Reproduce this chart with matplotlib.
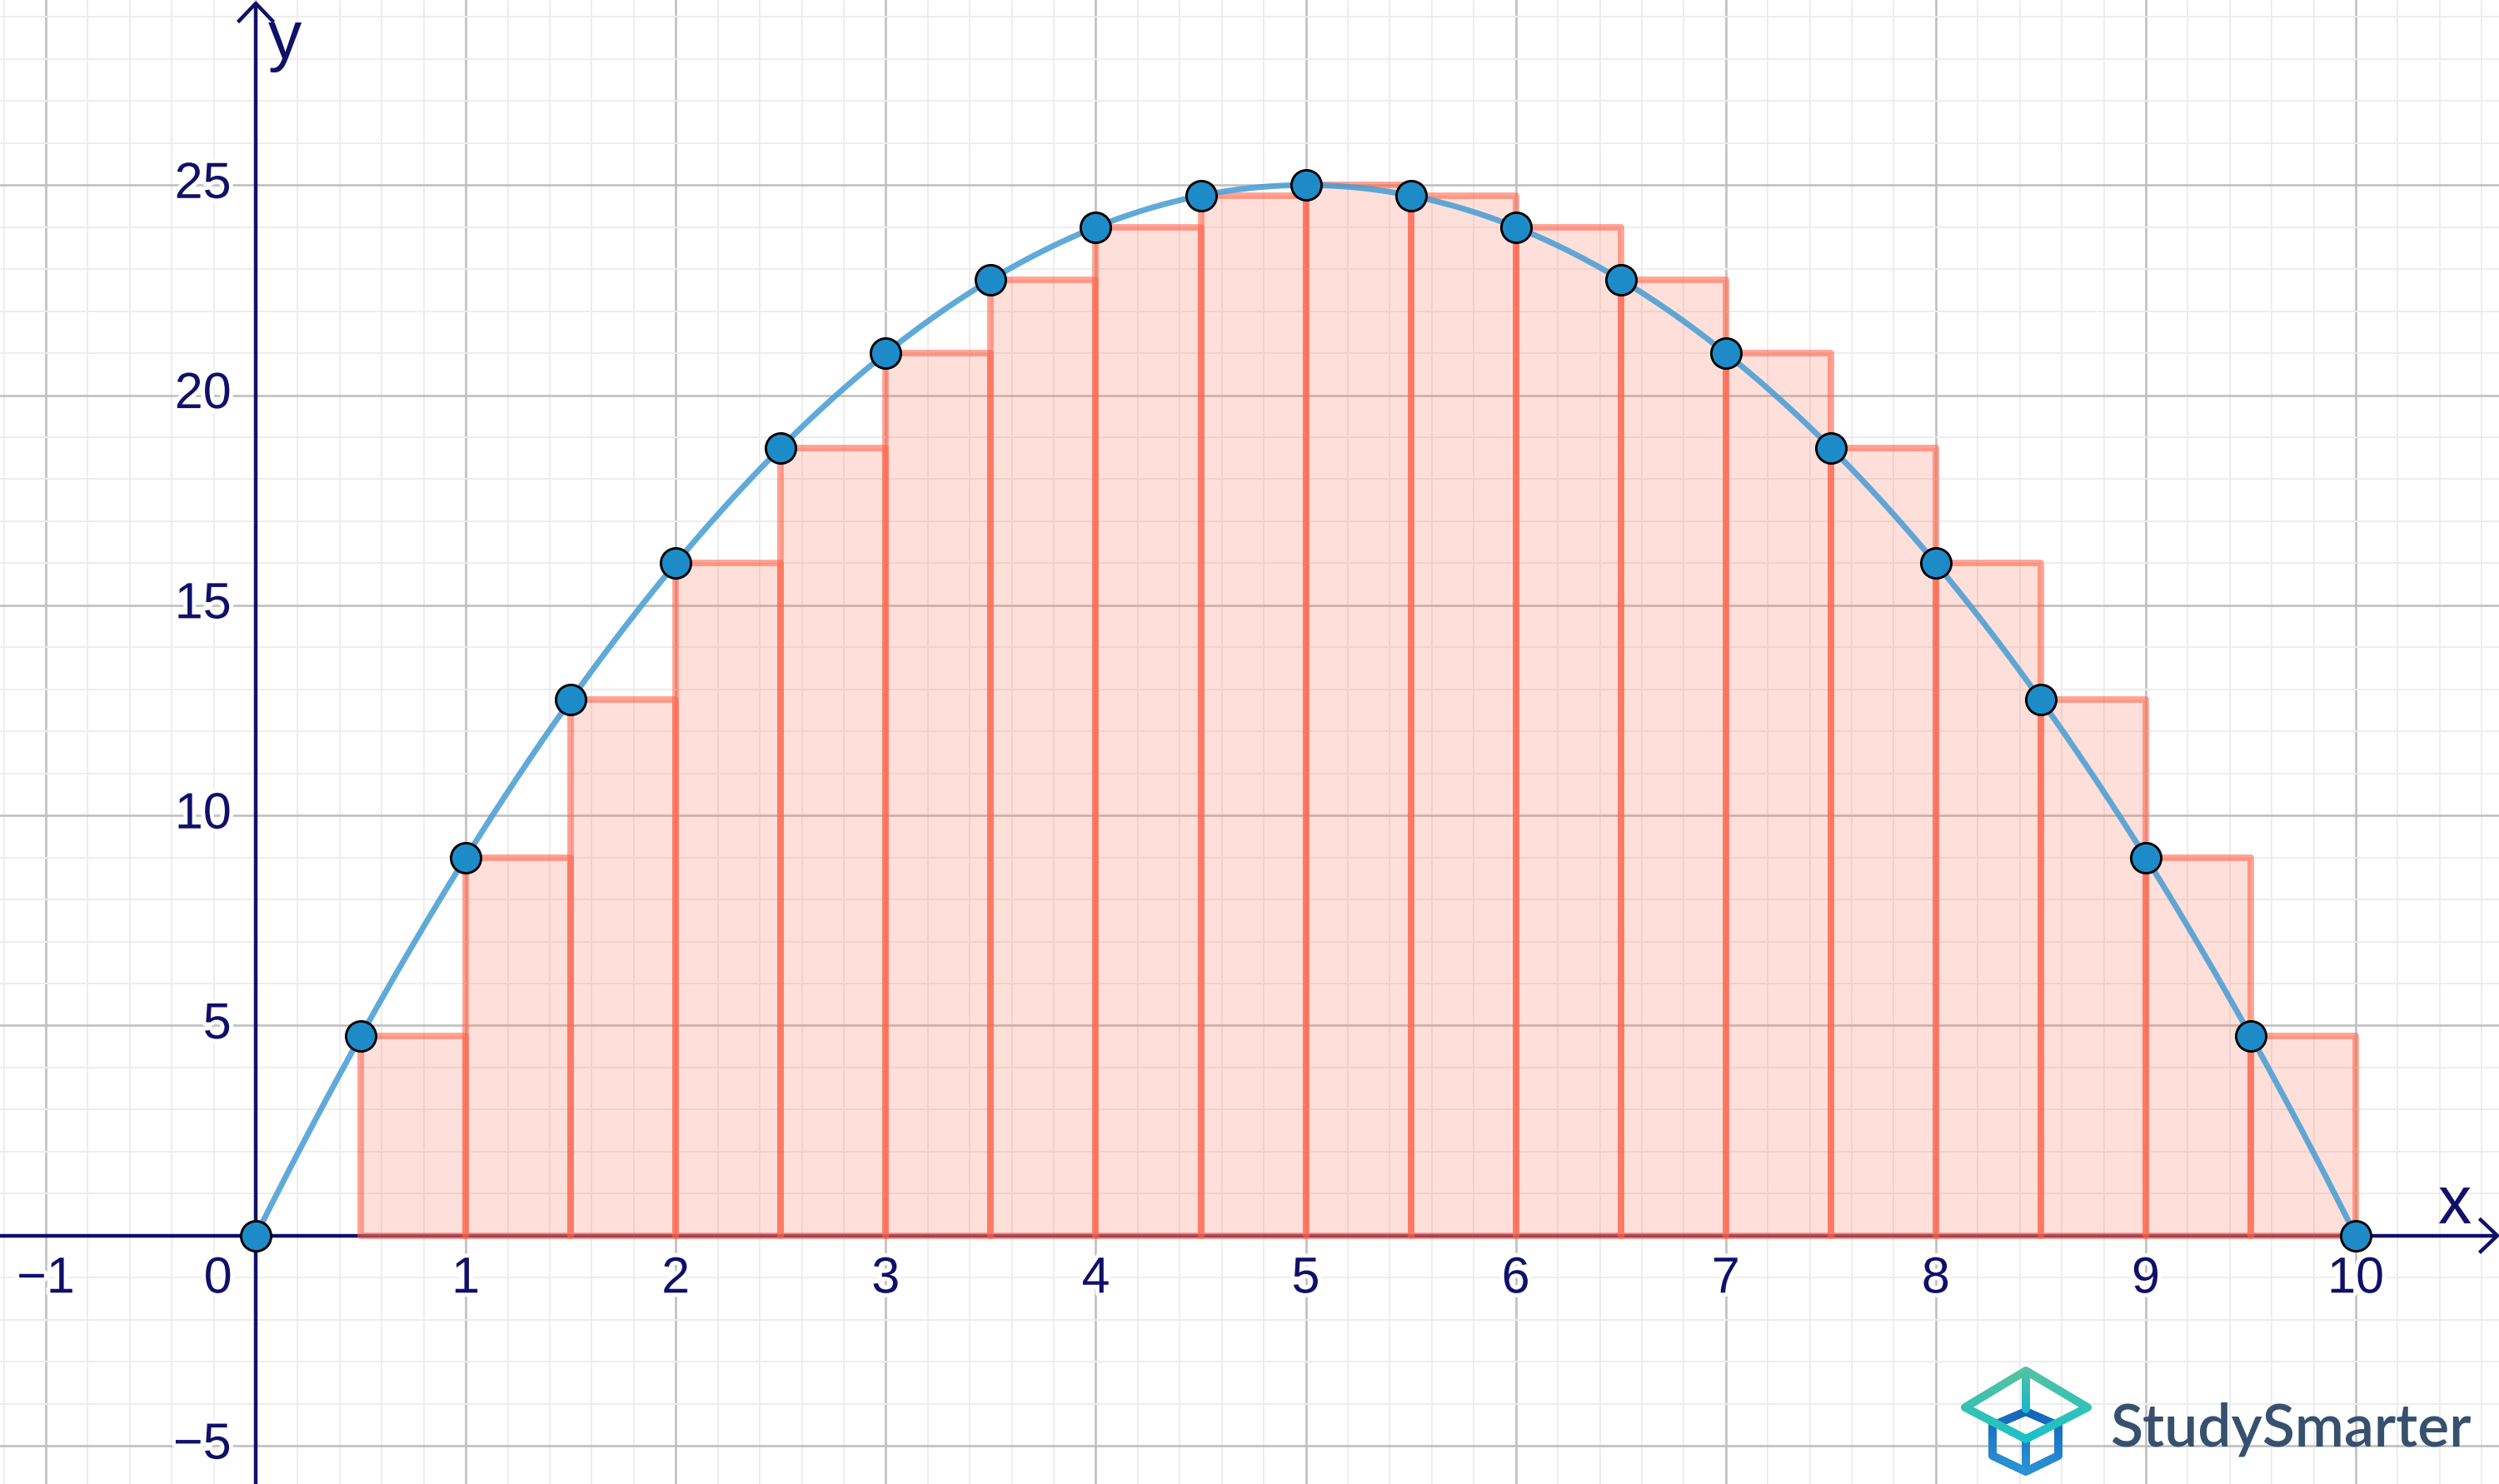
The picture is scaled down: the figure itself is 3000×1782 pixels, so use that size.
import numpy as np
import matplotlib
matplotlib.use("Agg")
import matplotlib.pyplot as plt
from matplotlib.ticker import MultipleLocator
from matplotlib.collections import LineCollection
import matplotlib.patheffects as pe

# ---------------- data ----------------
point_x = [0, 0.5, 1, 1.5, 2, 2.5, 3, 3.5, 4, 4.5, 5, 5.5, 6, 6.5, 7, 7.5, 8, 8.5, 9, 9.5, 10]
point_y = [0, 4.75, 9, 12.75, 16, 18.75, 21, 22.75, 24, 24.75, 25,
           24.75, 24, 22.75, 21, 18.75, 16, 12.75, 9, 4.75, 0]
rect_left = [0.5, 1, 1.5, 2, 2.5, 3, 3.5, 4, 4.5, 5, 5.5, 6, 6.5, 7, 7.5, 8, 8.5, 9, 9.5]
rect_height = [4.75, 9, 12.75, 16, 18.75, 21, 22.75, 24, 24.75, 25,
               24.75, 24, 22.75, 21, 18.75, 16, 12.75, 9, 4.75]
rect_width = 0.5
curve_coef = [-1, 10, 0]          # y = -x^2 + 10x
curve_range = [0, 10]
xtick_vals = [-1, 1, 2, 3, 4, 5, 6, 7, 8, 9, 10]
ytick_vals = [-5, 5, 10, 15, 20, 25]

# ---------------- style ----------------
NAVY = "#10106A"
FONT = "Liberation Sans"
W, H, DPI = 30.0, 17.82, 100
fig = plt.figure(figsize=(W, H), dpi=DPI)
ax = fig.add_axes([0, 0, 1, 1])
XMIN, XMAX = -1.218, 10.682
YMIN, YMAX = -5.91, 29.405
ax.set_xlim(XMIN, XMAX)
ax.set_ylim(YMIN, YMAX)
for s in ax.spines.values():
    s.set_visible(False)

ax.xaxis.set_major_locator(MultipleLocator(1))
ax.xaxis.set_minor_locator(MultipleLocator(0.2))
ax.yaxis.set_major_locator(MultipleLocator(5))
ax.yaxis.set_minor_locator(MultipleLocator(1))
ax.tick_params(which="both", length=0, labelbottom=False, labelleft=False)
ax.grid(which="minor", color="#EDEDED", linewidth=1.4, zorder=0)
ax.grid(which="major", color="#C0C0C0", linewidth=1.9, zorder=0)
ax.set_axisbelow(True)

# axes with open arrow heads
ax_lw = 3.2
px_x = (XMAX - XMIN) / (W * DPI)
px_y = (YMAX - YMIN) / (H * DPI)
x_tip = XMAX - 2 * px_x
y_tip = YMAX - 4 * px_y
ax.plot([XMIN, x_tip], [0, 0], color=NAVY, lw=ax_lw, zorder=1, solid_capstyle="butt")
ax.plot([0, 0], [YMIN, y_tip], color=NAVY, lw=ax_lw, zorder=1, solid_capstyle="butt")
ax.plot([x_tip - 20 * px_x, x_tip, x_tip - 20 * px_x], [19 * px_y, 0, -19 * px_y],
        color=NAVY, lw=ax_lw, zorder=1)
ax.plot([-20 * px_x, 0, 20 * px_x], [y_tip - 21 * px_y, y_tip, y_tip - 21 * px_y],
        color=NAVY, lw=ax_lw, zorder=1)

# rectangles
ax.bar(rect_left, rect_height, width=rect_width, align="edge",
       facecolor=(1.0, 0.39, 0.29, 0.2), edgecolor=(1.0, 0.40, 0.30, 0.6),
       linewidth=5.6, joinstyle="round", zorder=2)

# curve
cx = np.linspace(curve_range[0], curve_range[1], 500)
cy = np.polyval(curve_coef, cx)
ax.plot(cx, cy, color="#4A9FD4", alpha=0.88, lw=5.0, zorder=3, solid_capstyle="round")

# points
ax.plot(point_x, point_y, linestyle="none", marker="o", markersize=26,
        markerfacecolor="#1E8BC9", markeredgecolor="black", markeredgewidth=2.1, zorder=4)

# tick labels
halo = [pe.withStroke(linewidth=7, foreground="white")]
def fmt(v):
    return ("\u2212" + str(abs(v))) if v < 0 else str(v)
for v in xtick_vals:
    ax.text(v, -1.05, fmt(v), ha="center", va="center", fontsize=44, family=FONT,
            color=NAVY, path_effects=halo, zorder=5)
for v in ytick_vals:
    ax.text(-0.116, v, fmt(v), ha="right", va="center", fontsize=44, family=FONT,
            color=NAVY, path_effects=halo, zorder=5)
ax.text(-0.18, -1.05, "0", ha="center", va="center", fontsize=44, family=FONT,
        color=NAVY, path_effects=halo, zorder=5)

# axis names
ax.text(10.47, 0.30, "x", ha="center", va="baseline", fontsize=58, family=FONT,
        color=NAVY, zorder=5)
ax.text(0.14, 28.02, "y", ha="center", va="baseline", fontsize=58, family=FONT,
        color=NAVY, zorder=5)

# ---------------- logo ----------------
def fpt(x, y):
    return (x / (W * DPI), 1 - y / (H * DPI))

def grad_path(pts, c_top, c_bot, y_top, y_bot, lw=7.0, n=30):
    segs, cols = [], []
    c_top = np.array(matplotlib.colors.to_rgb(c_top))
    c_bot = np.array(matplotlib.colors.to_rgb(c_bot))
    for (x0, y0), (x1, y1) in zip(pts[:-1], pts[1:]):
        for i in range(n):
            t0, t1 = i / n, (i + 1) / n
            xa, ya = x0 + (x1 - x0) * t0, y0 + (y1 - y0) * t0
            xb, yb = x0 + (x1 - x0) * t1, y0 + (y1 - y0) * t1
            segs.append([fpt(xa, ya), fpt(xb, yb)])
            f = np.clip(((ya + yb) / 2 - y_top) / (y_bot - y_top), 0, 1)
            cols.append(c_top * (1 - f) + c_bot * f)
    lc = LineCollection(segs, colors=cols, linewidths=lw, capstyle="round",
                        transform=fig.transFigure, zorder=10)
    fig.add_artist(lc)

# lower cube (blue)
grad_path([(2432, 1695), (2392, 1712), (2392, 1748), (2432, 1767), (2471, 1748),
           (2471, 1712), (2432, 1695)], "#1565B8", "#2C93D6", 1695, 1767)
grad_path([(2432, 1730), (2432, 1758)], "#1E7CC8", "#2C93D6", 1730, 1767)
# top diamond (teal)
grad_path([(2359, 1690), (2432, 1646), (2506, 1690), (2432, 1728), (2359, 1690)],
          "#55C2A2", "#1CC0C8", 1646, 1728)
grad_path([(2432, 1650), (2432, 1692)], "#4CC2A8", "#1CB8C8", 1650, 1692)

fig.text(2533 / (W * DPI), 1 - 1736.7 / (H * DPI), "StudySmarter", ha="left",
         va="baseline", fontsize=51.5, family="Lato", weight="semibold", color="#37506E")

fig.savefig("out.png", dpi=DPI)
